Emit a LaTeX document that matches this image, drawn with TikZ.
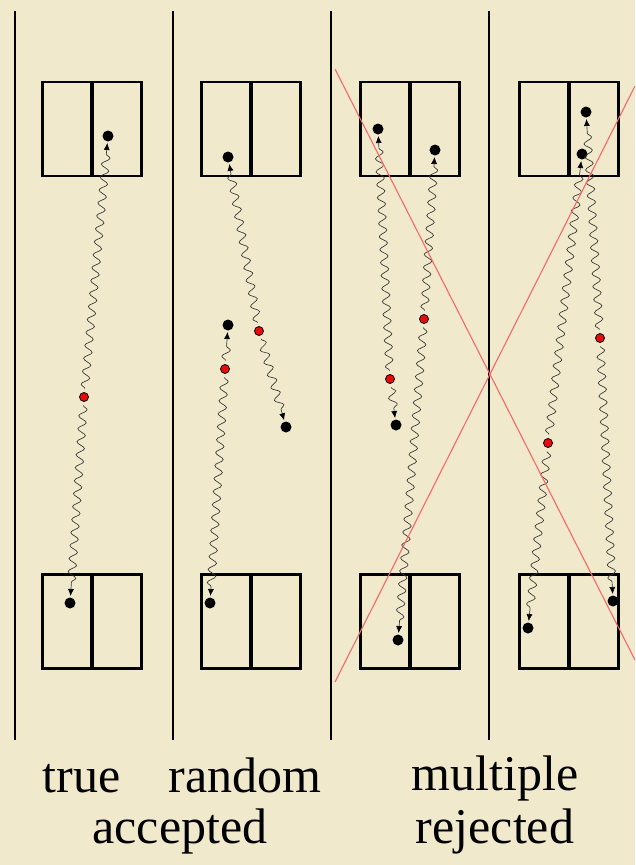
\documentclass[tikz,border=0pt]{standalone}
\usepackage{fontspec}
\setmainfont{Liberation Serif}
\usetikzlibrary{decorations.pathmorphing,arrows.meta}
\definecolor{parch}{RGB}{240,233,204}
\definecolor{xred}{RGB}{245,105,105}
\definecolor{dotred}{RGB}{235,10,10}
\tikzset{
  divline/.style={line width=2pt,black},
  det/.style={draw=black,line width=2.6pt,minimum width=99pt,minimum height=94pt,inner sep=0pt,outer sep=0pt},
  midbar/.style={line width=3.8pt,black},
  bdot/.style={circle,fill=black,inner sep=0pt,minimum size=11pt,outer sep=1.5pt},
  rdot/.style={circle,fill=dotred,draw=black,line width=0.8pt,inner sep=0pt,minimum size=9pt,outer sep=4pt},
  photon/.style={line width=0.65pt,black!80,-{Latex[length=7pt,width=6pt,black]},decorate,
     decoration={snake,amplitude=4pt,segment length=13pt,post length=8pt}},
  cross/.style={xred,line width=1.1pt},
  lab/.style={font=\fontsize{50}{60}\selectfont,anchor=base,inner sep=0pt}
}
\begin{document}
\begin{tikzpicture}[x=1pt,y=-1pt]
\fill[parch] (0,0) rectangle (635,865);
\useasboundingbox (0,0) rectangle (635,865);
% panel separators
\foreach \n/\x in {1/15,2/173,3/331,4/489}{
  \coordinate (lt\n) at (\x,11);
  \coordinate (lb\n) at (\x,740);
  \draw[divline] (lt\n) -- (lb\n);
}
% detectors
\foreach \n/\x in {1/92,2/251,3/410,4/569}{
  \node[det] (top\n) at (\x,129) {};
  \draw[midbar] (top\n.north) -- (top\n.south);
  \node[det] (bot\n) at (\x,621.5) {};
  \draw[midbar] (bot\n.north) -- (bot\n.south);
}
% panel 1: true
\node[rdot] (r1) at (84,397) {};
\node[bdot] (t1) at (108,136) {};
\node[bdot] (b1) at (70,603) {};
\draw[photon] (r1) -- (t1);
\draw[photon] (r1) -- (b1);
% panel 2: random
\node[rdot] (r2a) at (225,369) {};
\node[rdot] (r2b) at (259,331) {};
\node[bdot] (m2a) at (228,325) {};
\node[bdot] (b2) at (210,603) {};
\node[bdot] (t2) at (228,157) {};
\node[bdot] (m2b) at (286,427) {};
\draw[photon] (r2a) -- (m2a);
\draw[photon] (r2a) -- (b2);
\draw[photon] (r2b) -- (t2);
\draw[photon] (r2b) -- (m2b);
% panel 3: multiple
\node[rdot] (r3a) at (390,379) {};
\node[rdot] (r3b) at (424,319) {};
\node[bdot] (t3a) at (378,129) {};
\node[bdot] (t3b) at (435,150) {};
\node[bdot] (m3) at (396,425) {};
\node[bdot] (b3) at (398,640) {};
\draw[photon] (r3a) -- (t3a);
\draw[photon] (r3a) -- (m3);
\draw[photon] (r3b) -- (t3b);
\draw[photon] (r3b) -- (b3);
% panel 4
\node[rdot] (r4a) at (600,338) {};
\node[rdot] (r4b) at (548,443) {};
\node[bdot] (t4a) at (586,112) {};
\node[bdot] (t4b) at (582,154) {};
\node[bdot] (b4a) at (528,628) {};
\node[bdot] (b4b) at (613,601) {};
\draw[photon] (r4a) -- (t4a);
\draw[photon] (r4a) -- (b4b);
\draw[photon] (r4b) -- (t4b);
\draw[photon] (r4b) -- (b4a);
% rejection cross
\coordinate (c1a) at (335,69);
\coordinate (c1b) at (635,660);
\coordinate (c2a) at (335,682);
\coordinate (c2b) at (635,86);
\draw[cross] (c1a) -- (c1b);
\draw[cross] (c2a) -- (c2b);
% labels
\node[lab] (ltrue) at (81.5,792) {true};
\node[lab] (lrand) at (245,792) {random};
\node[lab] (lmult) at (495,790) {multiple};
\node[lab] (lacc) at (180,843) {accepted};
\node[lab] (lrej) at (495,843) {rejected};
\end{tikzpicture}
\end{document}
